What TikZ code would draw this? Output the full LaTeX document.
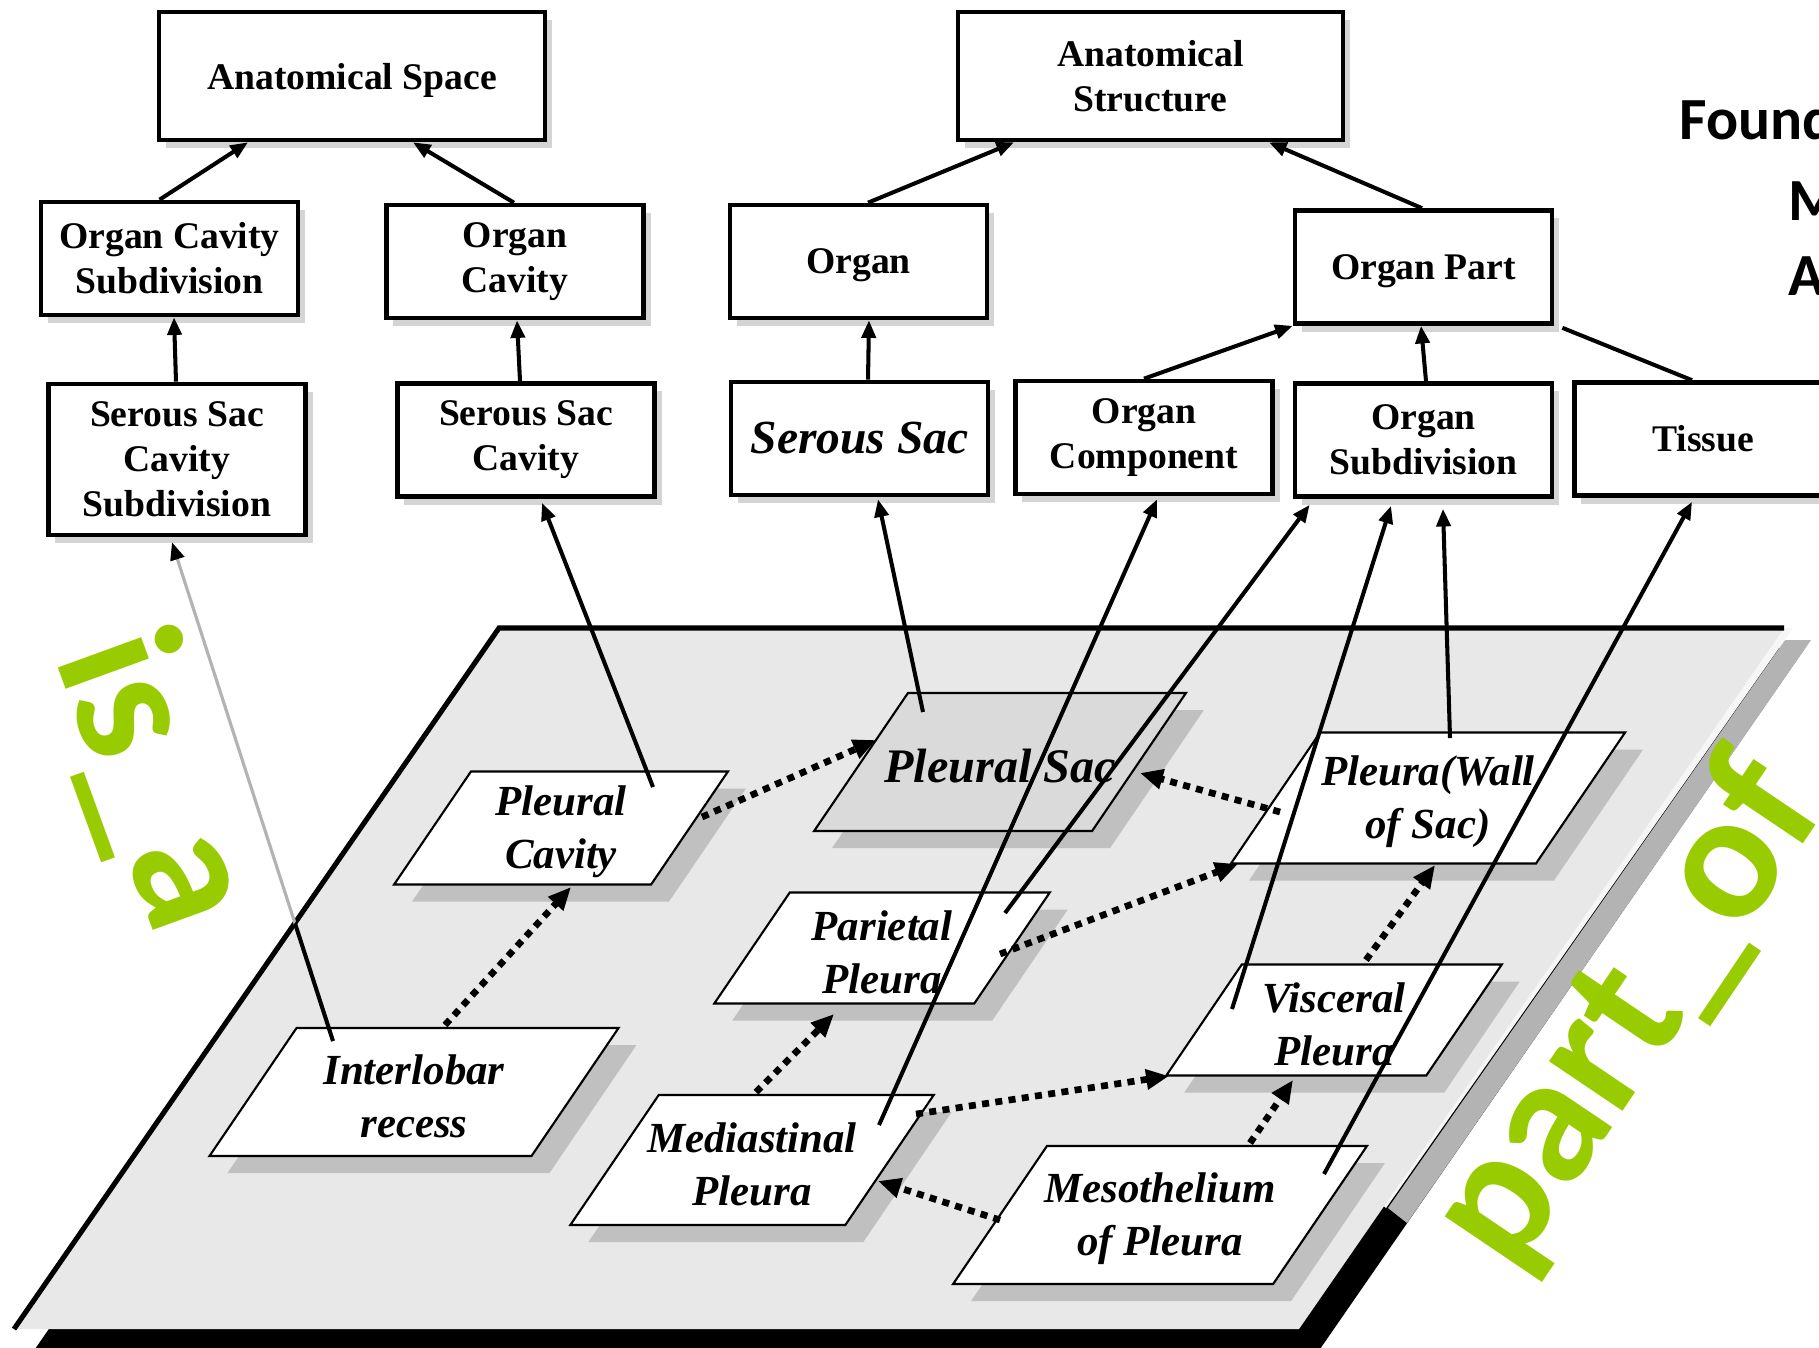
\documentclass[tikz,border=0pt]{standalone}
\usepackage{fontspec}
\setmainfont{Liberation Serif}
\newfontfamily\labelfont{Carlito}
\usetikzlibrary{arrows.meta,calc,shadows}

\definecolor{planefill}{HTML}{E8E8E8}
\definecolor{slabgray}{HTML}{B3B3B3}
\definecolor{slabwhite}{HTML}{F6F6F6}
\definecolor{boxshade}{HTML}{D4D4D4}
\definecolor{plateshade}{HTML}{C0C0C0}
\definecolor{sacfill}{HTML}{DADADA}
\definecolor{relgreen}{HTML}{99CC00}
\definecolor{faintline}{HTML}{B3B3B3}

\tikzset{
  classbox/.style={draw=black, line width=1.3pt, fill=white, inner sep=0pt, align=center,
    minimum width=2.57cm, minimum height=1.13cm,
    font=\fontsize{10.7}{12.8}\selectfont\bfseries,
    drop shadow={shadow xshift=0.07cm, shadow yshift=-0.08cm, fill=boxshade, opacity=1}},
  flat/.style={text depth=0pt},
  platetext/.style={inner sep=0pt, align=center, font=\fontsize{12.2}{15}\selectfont\bfseries\itshape},
  isa/.style={line width=1.15pt, -{Triangle[length=5pt,width=4pt]}},
  partof/.style={line width=1.9pt, dash pattern=on 2pt off 1.8pt, -{Triangle[length=6.5pt,width=5.5pt]}},
  relword/.style={inner sep=0pt, text=relgreen, font=\labelfont\bfseries\fontsize{52}{52}\selectfont},
}

% parallelogram class on the plane: name, cx, cy, top width, height, fill, label
\newcommand{\plate}[7]{%
  \pgfmathsetmacro{\plW}{#4/2}%
  \pgfmathsetmacro{\plH}{#5/2}%
  \pgfmathsetmacro{\plS}{0.34*#5}%
  \fill[plateshade] (#2-\plW+\plS+18,#3-\plH+17) -- (#2+\plW+\plS+18,#3-\plH+17)
     -- (#2+\plW-\plS+18,#3+\plH+17) -- (#2-\plW-\plS+18,#3+\plH+17) -- cycle;
  \filldraw[fill=#6, draw=black, line width=0.6pt] (#2-\plW+\plS,#3-\plH) -- (#2+\plW+\plS,#3-\plH)
     -- (#2+\plW-\plS,#3+\plH) -- (#2-\plW-\plS,#3+\plH) -- cycle;
  \node[platetext] (#1) at (#2,#3+4) {#7};
}

\begin{document}
\begin{tikzpicture}[x=0.01cm, y=-0.01cm]
\useasboundingbox (0,0) rectangle (1819,1347);
\clip (0,0) rectangle (1819,1347);
\fill[white] (0,0) rectangle (1819,1347);

% ---- the plane with its slab edges ----
\fill[black] (520,648) -- (1805,648) -- (1320,1349) -- (35,1349) -- cycle;
\fill[slabgray] (1785,640) -- (1811,640) -- (1407,1223) -- (1388,1208) -- cycle;
\fill[slabwhite] (1784,628) -- (1793,628) -- (1386,1208) -- (1373,1197) -- cycle;
\fill[planefill] (499,628) -- (1784,628) -- (1299,1329) -- (14,1329) -- cycle;
\draw[line width=1.45pt, line join=miter] (14,1329) -- (499,628) -- (1784,628);

% ---- relation words ----
\node[relword, rotate=-70, anchor=base west] (isaword) at (54,657) {is\_a};
\node[relword, rotate=56, anchor=base west] (partofword) at (1512,1276) {part\_of};

% ---- title fragment ----
\node[anchor=base west, inner sep=0pt, font=\labelfont\bfseries\fontsize{17}{20}\selectfont] (tl1) at (1679,139) {Found};
\node[anchor=base west, inner sep=0pt, font=\labelfont\bfseries\fontsize{17}{20}\selectfont] (tl2) at (1788,220) {M};
\node[anchor=base west, inner sep=0pt, font=\labelfont\bfseries\fontsize{17}{20}\selectfont] (tl3) at (1788,295) {A};

% ---- upper class boxes ----
\node[classbox, flat, minimum width=3.86cm, minimum height=1.28cm] (aspace) at (352,76) {Anatomical Space};
\node[classbox, minimum width=3.85cm, minimum height=1.28cm] (astruct) at (1150.5,76) {Anatomical\\Structure};
\node[classbox] (ocsub) at (169.5,258.5) {Organ Cavity\\Subdivision};
\node[classbox] (ocav) at (515,261.5) {Organ\\Cavity};
\node[classbox, flat] (organ) at (858.5,261.5) {Organ};
\node[classbox, flat] (opart) at (1423.5,267) {Organ Part};
\node[classbox, minimum height=1.51cm] (sscsub) at (177,459.5) {Serous Sac\\Cavity\\Subdivision};
\node[classbox] (sscav) at (526,440) {Serous Sac\\Cavity};
\node[classbox] (ssac) at (859.5,438.5) {\fontsize{13.5}{16}\selectfont\itshape Serous Sac};
\node[classbox] (ocomp) at (1144,437.5) {Organ\\Component};
\node[classbox] (osub) at (1423.5,440) {Organ\\Subdivision};
\node[classbox] (tissue) at (1703,439) {Tissue};

\draw[isa] ($(ocsub.north)+(-10,0)$) -- ($(aspace.south)+(-104,0)$);
\draw[isa] ($(ocav.north)+(-1,0)$) -- ($(aspace.south)+(61,0)$);
\draw[isa] ($(sscsub.north)+(-1,0)$) -- ($(ocsub.south)+(4.5,0)$);
\draw[isa] ($(sscav.north)+(-6,0)$) -- ($(ocav.south)+(2,0)$);
\draw[isa] ($(organ.north)+(9.5,0)$) -- ($(astruct.south)+(-136.5,0)$);
\draw[isa] ($(opart.north)+(-1.5,0)$) -- ($(astruct.south)+(118.5,0)$);
\draw[isa] ($(ssac.north)+(8.5,0)$) -- ($(organ.south)+(10.5,0)$);
\draw[isa] (ocomp.north) -- (opart.south west);
\draw[isa] ($(osub.north)+(2.5,0)$) -- ($(opart.south)+(-2.5,0)$);
\draw[line width=1.15pt] ($(tissue.north)+(-11,0)$) -- ($(opart.south east)+(8,2)$);

% ---- classes on the plane ----
\plate{pcav}{561}{828}{257}{113}{white}{Pleural\\Cavity}
\plate{psac}{1000}{762}{278}{138}{sacfill}{\fontsize{13.7}{16}\selectfont Pleural Sac}
\plate{wall}{1428}{798}{305}{131}{white}{Pleura(Wall\\of Sac)}
\plate{par}{882}{948}{260}{111}{white}{Parietal\\Pleura}
\plate{visc}{1334}{1020}{260}{111}{white}{Visceral\\Pleura}
\plate{il}{414}{1092}{322}{128}{white}{Interlobar\\recess}
\plate{med}{752}{1160}{275}{130}{white}{Mediastinal\\Pleura}
\plate{meso}{1160}{1215}{320}{138}{white}{Mesothelium\\of Pleura}

% ---- is_a links from the plane up to the classes ----
\draw[faintline, line width=0.9pt, -{Triangle[length=5pt,width=4pt,color=black]}]
  ($(il)+(-81,-55)$) -- ($(sscsub.south)+(-5,5)$);
\begin{scope}
  \clip (499,628) -- (1784,628) -- (1299,1329) -- (14,1329) -- cycle;
  \draw[line width=1.15pt] ($(il)+(-81,-55)$) -- ($(sscsub.south)+(-5,5)$);
\end{scope}
\draw[isa] ($(pcav)+(92,-45)$) -- ($(sscav.south)+(16,4)$);
\draw[isa] ($(psac)+(-77,-54)$) -- ($(ssac.south)+(18.5,2)$);
\draw[isa] ($(med)+(127,-39)$) -- ($(ocomp.south)+(13,3)$);
\draw[isa] ($(par)+(123,-39)$) -- ($(osub.south west)+(17,6)$);
\draw[isa] ($(visc)+(-102,-15)$) -- ($(osub.south)+(-32.5,7)$);
\draw[isa] ($(wall)+(22,-64)$) -- ($(osub.south)+(19.5,10)$);
\draw[isa] ($(meso)+(164,-45)$) -- ($(tissue.south)+(-11,4)$);

% ---- part_of links within the plane ----
\draw[partof] ($(il)+(31,-71)$) -- ($(pcav)+(10,55)$);
\draw[partof] ($(pcav)+(141,-15)$) -- ($(psac)+(-124,-26)$);
\draw[partof] ($(wall)+(-148,10)$) -- ($(psac)+(140,7)$);
\draw[partof] ($(par)+(118,2)$) -- ($(wall)+(-190,62)$);
\draw[partof] ($(visc)+(32,-64)$) -- ($(wall)+(7,63)$);
\draw[partof] ($(med)+(4,-72)$) -- ($(par)+(-48,62)$);
\draw[partof] ($(med)+(164,-50)$) -- ($(visc)+(-165,52)$);
\draw[partof] ($(meso)+(90,-76)$) -- ($(visc)+(-41,56)$);
\draw[partof] ($(meso)+(-160,1)$) -- ($(med)+(126,17)$);
\end{tikzpicture}
\end{document}
